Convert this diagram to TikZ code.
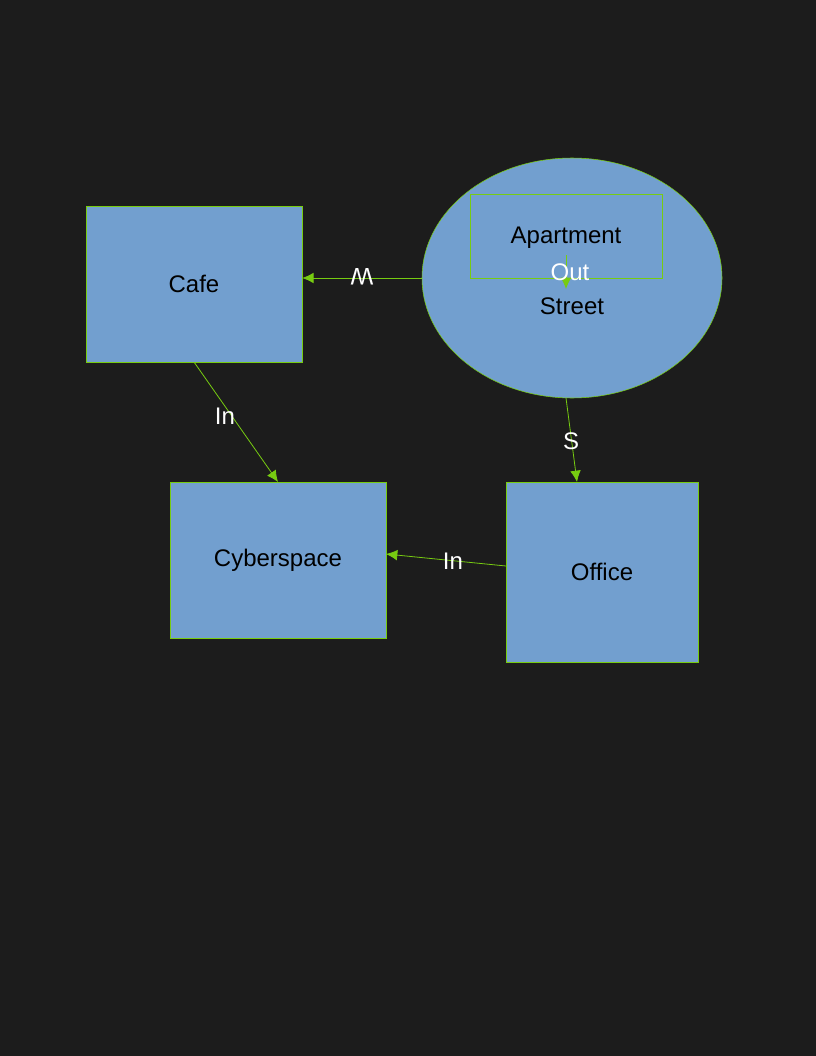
\documentclass[tikz,border=0pt]{standalone}
\usepackage{fontspec}
\setmainfont{Liberation Sans}
\usetikzlibrary{arrows.meta,shapes.geometric}
\definecolor{bgcolor}{HTML}{1C1C1C}
\definecolor{boundarycolor}{HTML}{77CC11}
\definecolor{fillcolor}{HTML}{729FCF}
\tikzset{
	placebox/.style={draw=boundarycolor,fill=fillcolor,rectangle,inner sep=0pt,font=\fontsize{18}{22}\selectfont},
	placeoval/.style={draw=boundarycolor,fill=fillcolor,ellipse,inner sep=0pt,font=\fontsize{18}{22}\selectfont},
	placetext/.style={font=\fontsize{18}{22}\selectfont,text=black,inner sep=0pt},
	linklabel/.style={font=\fontsize{18}{22}\selectfont,text=white,inner sep=0pt},
	link/.style={draw=boundarycolor,-{Latex[length=8.5pt,width=8pt]},line width=0.6pt}
}
\begin{document}
\begin{tikzpicture}[x=0.75pt,y=-0.75pt]
			%背景
			\fill[bgcolor](0,0)rectangle(816,1056);
			\useasboundingbox(0,0)rectangle(816,1056);
			%场所
			\node[placebox,minimum width=162pt,minimum height=117pt] (cafe) at (194,284) {Cafe};
			\node[placeoval,minimum width=225pt,minimum height=180pt] (street) at (572,278) {};
			\node[placebox,minimum width=144pt,minimum height=63pt] (apartment) at (566,236) {};
			\node[placetext] (aptname) at (566,238) {Apartment};
			\node[placetext] (streetname) at (572,306) {Street};
			\node[placebox,minimum width=162pt,minimum height=117pt] (cyberspace) at (278,560) {Cyberspace};
			\node[placebox,minimum width=144pt,minimum height=135pt] (office) at (602,572) {Office};
			%连线
			\coordinate (outstart) at (566,255);
			\coordinate (outend) at (566,289);
			\coordinate (westend) at (422,278);
			\coordinate (southstart) at (566,398);
			\coordinate (southend) at (577,482);
			\coordinate (instart) at (194,362);
			\coordinate (inend) at (278,482);
			\coordinate (officewest) at (506,566);
			\coordinate (cyberend) at (386,554);
			\draw[link](outstart)--(outend);
			\draw[link](westend)--(cafe.east |- westend);
			\draw[link](southstart)--(southend);
			\draw[link](instart)--(inend);
			\draw[link](officewest)--(cyberend);
			%标签
			\node[linklabel] (outlabel) at (570,272) {Out};
			\node[linklabel,rotate=180] (westlabel) at (362,277) {W};
			\node[linklabel] (southlabel) at (571,441) {S};
			\node[linklabel] (inlabel) at (225,416) {In};
			\node[linklabel] (officelabel) at (453,561) {In};
		\end{tikzpicture}
\end{document}
